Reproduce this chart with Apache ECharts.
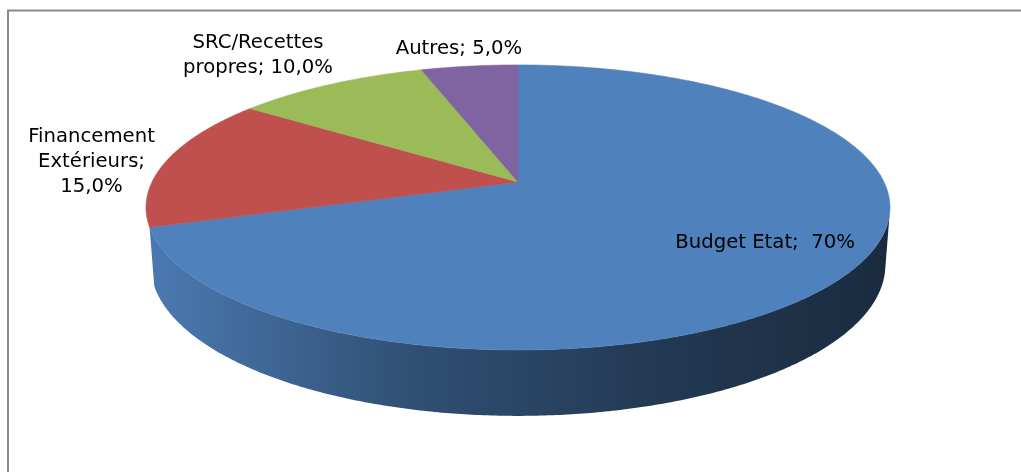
<!DOCTYPE html>
<html>
<head>
<meta charset="utf-8">
<script src="https://cdn.jsdelivr.net/npm/echarts@6/dist/echarts.min.js"></script>
<style>
  html, body { margin: 0; padding: 0; background: #fff; }
  #main { width: 1021px; height: 472px; }
</style>
</head>
<body>
<div id="main"></div>
<script>
// data
var categories = ['Budget Etat', 'Financement Extérieurs', 'SRC/Recettes propres', 'Autres'];
var values = [70, 15, 10, 5];
var labelTexts = ['Budget Etat;  70%', 'Financement\nExtérieurs;\n15,0%', 'SRC/Recettes\npropres; 10,0%', 'Autres; 5,0%'];
var colors = ['#4f81bd', '#c0504d', '#9bbb59', '#8064a2'];

// 3d look: perspective disc
var cx = 518, cy = 182, radius = 366;
var tilt = 22.15 * Math.PI / 180;
var sinT = Math.sin(tilt), cosT = Math.cos(tilt);
var persp = 0.193, thick = 0.168;
// label layout (radius factor on the mid angle + small nudge)
var labelRadius = [0.75, 1.22, 1.41, 1.21];
var labelNudge = [[6, -5], [0, 6], [-8, 4], [-2, 3]];

function proj(X, Y, Z) {
    var dep = Z * cosT - Y * sinT;
    var up = Z * sinT + Y * cosT;
    var s = 1 / (1 + persp * dep);
    return [cx + radius * X * s, cy - radius * up * s];
}
function rim(theta, y, r) {
    r = r || 1;
    return proj(r * Math.sin(theta), y, r * Math.cos(theta));
}
function shade(hex, f) {
    var c = echarts.color.parse(hex);
    return 'rgb(' + Math.round(c[0] * f) + ',' + Math.round(c[1] * f) + ',' + Math.round(c[2] * f) + ')';
}

var total = values.reduce(function (a, b) { return a + b; }, 0);
var starts = [];
var acc = 0;
values.forEach(function (v) { starts.push(acc / total); acc += v; });

// wall is seen where cos(theta) < -persp / cos(tilt)
var wallFrom = Math.acos(-persp / cosT);
var wallTo = 2 * Math.PI - wallFrom;

var chart = echarts.init(document.getElementById('main'));

chart.setOption({
    animation: false,
    graphic: [{
        type: 'rect',
        shape: { x: 8, y: 10.5, width: 1100, height: 600 },
        style: { fill: 'none', stroke: '#8a8a8a', lineWidth: 2 },
        silent: true
    }],
    series: [{
        type: 'custom',
        coordinateSystem: 'none',
        data: values.map(function (v, i) { return { value: [v, i], name: categories[i] }; }),
        renderItem: function (params, api) {
            var i = params.dataIndex;
            var a0 = starts[i] * 2 * Math.PI;
            var a1 = (starts[i] + api.value(0) / total) * 2 * Math.PI;
            var col = colors[i];
            var children = [];
            var step = Math.PI / 360;
            var t;

            // outer wall (skip tiny slivers)
            var w0 = Math.max(a0, wallFrom), w1 = Math.min(a1, wallTo);
            if (w1 - w0 > 0.14) {
                var wall = [];
                for (t = w0; t < w1; t += step) wall.push(rim(t, 0));
                wall.push(rim(w1, 0));
                for (t = w1; t > w0; t -= step) wall.push(rim(t, -thick));
                wall.push(rim(w0, -thick));
                children.push({
                    type: 'polygon',
                    z2: 1,
                    shape: { points: wall },
                    style: {
                        fill: new echarts.graphic.LinearGradient(146, 0, 890, 0, [
                            { offset: 0, color: shade(col, 0.94) },
                            { offset: 0.07, color: shade(col, 0.88) },
                            { offset: 0.36, color: shade(col, 0.61) },
                            { offset: 0.69, color: shade(col, 0.44) },
                            { offset: 1, color: shade(col, 0.33) }
                        ], true),
                        stroke: null
                    }
                });
            }

            // top face
            var top = [proj(0, 0, 0)];
            for (t = a0; t < a1; t += step) top.push(rim(t, 0));
            top.push(rim(a1, 0));
            children.push({
                type: 'polygon',
                z2: 10,
                shape: { points: top },
                style: { fill: col, stroke: col, lineWidth: 0.6 }
            });

            // label
            var mid = (a0 + a1) / 2;
            var lp = rim(mid, 0, labelRadius[i]);
            children.push({
                type: 'text',
                z2: 20,
                x: lp[0] + labelNudge[i][0],
                y: lp[1] + labelNudge[i][1],
                scaleX: 1.035,
                style: {
                    text: labelTexts[i],
                    fill: '#000',
                    font: '19px "DejaVu Sans"',
                    lineHeight: 25,
                    align: 'center',
                    verticalAlign: 'middle'
                }
            });
            return { type: 'group', children: children };
        }
    }]
});
</script>
</body>
</html>
